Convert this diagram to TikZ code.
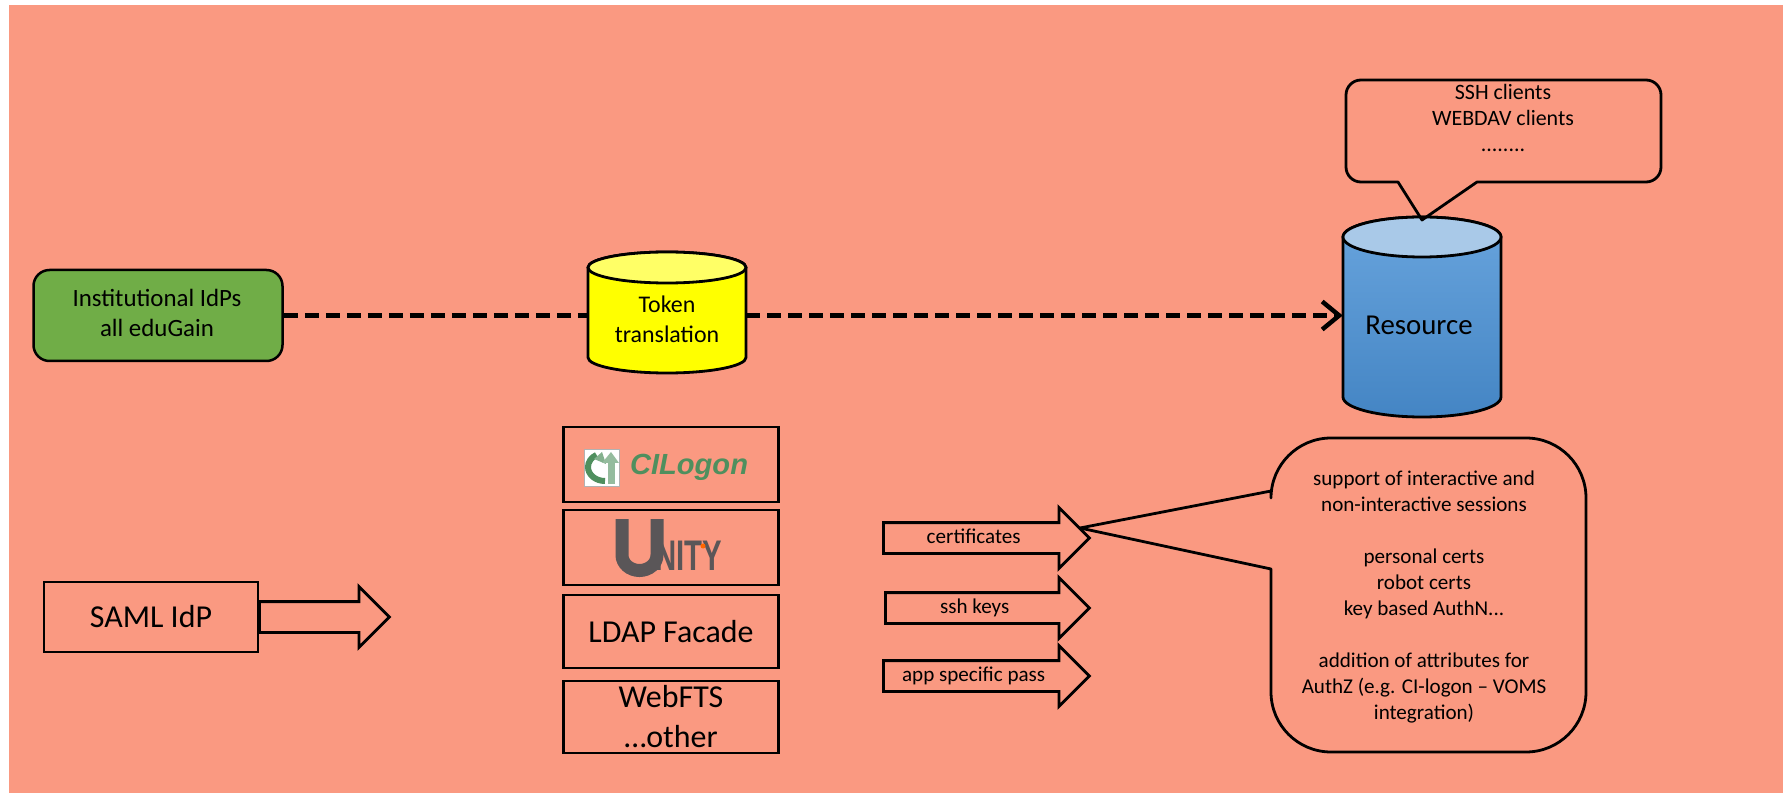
\documentclass[tikz,border=0pt]{standalone}
\usepackage{fontspec}
\setmainfont{Carlito}
\newfontfamily\logofont{Liberation Sans}
\usetikzlibrary{arrows.meta}
\usetikzlibrary{shapes.arrows}
\def\px{.025cm}
\definecolor{salmonbg}{HTML}{FA9981}
\definecolor{idpgreen}{HTML}{70AD47}
\definecolor{logogreen}{HTML}{4F8F5E}
\definecolor{unitygray}{HTML}{5A5658}
\definecolor{tokenbody}{HTML}{FFFF00}
\definecolor{tokenend}{HTML}{FFFF66}
\definecolor{drumtop}{HTML}{68A4DD}
\definecolor{drumbottom}{HTML}{4485C4}
\definecolor{drumend}{HTML}{A9C9E8}
\tikzset{
  boxed/.style={draw=black, line width=2.5*\px, inner sep=0pt, align=center},
  talk/.style={draw=black, line width=2.8*\px, line join=round},
  flowarrow/.style={single arrow, draw=black, line width=2.8*\px, inner sep=0pt, anchor=tail,
    single arrow head extend=15*\px, text height=19*\px, text depth=9*\px, single arrow tip angle=90},
  smalltxt/.style={font=\fontsize{15}{18.5}\selectfont, align=center, inner sep=0pt},
  bigtxt/.style={font=\fontsize{22.7}{28.5}\selectfont, align=center},
  dashline/.style={line width=5*\px, dash pattern=on 14*\px off 7*\px},
  drumline/.style={draw=black, line width=2.8*\px},
  drumlabel/.style={inner sep=0pt, align=center, minimum width=158*\px}
}
% centre x, y of top and bottom ellipse, axial radius, body look, end look
\newcommand{\drumshape}[6]{
  \draw[drumline, #5] (#1-79,#2) -- (#1-79,#3) arc [start angle=180, end angle=360, x radius=79*\px, y radius=#4*\px] -- (#1+79,#2) arc [start angle=0, end angle=180, x radius=79*\px, y radius=#4*\px] -- cycle;
  \draw[drumline, fill=#6] (#1,#2) ellipse [x radius=79*\px, y radius=#4*\px];
}
\begin{document}
\begin{tikzpicture}[x=.025cm, y=-.025cm]
\useasboundingbox (0,0) rectangle (1783,793);
\fill[white] (0,0) rectangle (1783,793);
\fill[salmonbg] (9,5) rectangle (1783,793);

\node[boxed, fill=idpgreen, rounded corners=16*\px, minimum width=249*\px, minimum height=91*\px] (idps) at (158,315.5) {};
\node[smalltxt, font=\fontsize{17.7}{21.5}\selectfont] (idpstxt) at (157,313) {Institutional IdPs\\all eduGain};

\drumshape{667}{267.5}{357.5}{15.5}{fill=tokenbody}{tokenend}
\node[drumlabel, font=\fontsize{17}{21.5}\selectfont] (token) at (667,319) {Token\\translation};

\drumshape{1422}{237}{397}{20}{top color=drumtop, bottom color=drumbottom}{drumend}
\node[drumlabel, font=\fontsize{20.5}{25}\selectfont] (resource) at (1422,325) {\hspace*{-.15cm}Resource};

\draw[dashline] (idps.east) -- (idps.east -| token.west);
\draw[dashline, -{Straight Barb[length=17*\px, width=28*\px, line width=4.5*\px]}] (token.east |- idps.east) -- (resource.west |- idps.east);

\draw[talk] (1398,182) -- (1422,220) -- (1477,182) [rounded corners=15*\px] -- (1661,182) -- (1661,80) -- (1346,80) -- (1346,182) [sharp corners] -- cycle;
\node[smalltxt, font=\fontsize{15.6}{18.5}\selectfont] (clients) at (1503,118) {SSH clients\\WEBDAV clients\\........};

\node[boxed, minimum width=215*\px, minimum height=75*\px] (cilogon) at (671,464.5) {};
\node[boxed, minimum width=215*\px, minimum height=75*\px] (unity) at (671,547.5) {};
\node[boxed, bigtxt, minimum width=215*\px, minimum height=73*\px] (ldap) at (671,631.5) {LDAP Facade};
\node[boxed, bigtxt, minimum width=215*\px, minimum height=72*\px] (webfts) at (671,717) {WebFTS\\…other};

\fill[white, draw=black!30] (584,449) rectangle (619,486);
\draw[logogreen, line width=6*\px] (605,481) arc [start angle=270, end angle=120, x radius=17*\px, y radius=14*\px];
\fill[logogreen!70!white] (602,452) -- (594,459) -- (606,464) -- cycle;
\draw[logogreen!60!white, line width=7*\px] (611,484) -- (611,462);
\fill[logogreen!60!white] (611,452) -- (602,463) -- (619,463) -- cycle;
\node[font=\logofont\bfseries\itshape\fontsize{20.7}{21}\selectfont, text=logogreen, inner sep=0pt] (cilogontxt) at (689,467) {CILogon};

\draw[unitygray, line width=13*\px] (622,519) -- (622,555) arc [start angle=180, end angle=360, x radius=17.5*\px, y radius=15.5*\px] -- (657,519);
\node[font=\logofont\bfseries\fontsize{29}{29}\selectfont, text=unitygray, inner sep=0pt, anchor=west] (unitytxt) at (655,556) {\scalebox{.72}[1.05]{NITY}};
\fill[orange!80!red] (703,546) circle [radius=2.5*\px];

\node[boxed, bigtxt, fill=salmonbg, minimum width=214*\px, minimum height=70*\px] (saml) at (151,617) {SAML IdP};
\node[flowarrow, minimum height=130*\px] (samlarrow) at (258,617) {};

\foreach \name/\xa/\ya/\lab in {certs/882/538/certificates, keys/884/608/ssh keys, pass/882/676/app specific pass}
  \node[flowarrow, font=\fontsize{15}{18}\selectfont, minimum height={(1088-\xa)*\px}] (\name) at (\xa,\ya) {\lab\hspace*{.25cm}};

\draw[talk] (1271,491) -- (1080,528) -- (1271,569) [rounded corners=60*\px] -- (1271,752) -- (1586,752) -- (1586,438) -- (1271,438) [sharp corners] -- cycle;
\node[smalltxt, font=\fontsize{15}{18.5}\selectfont] (notes) at (1424,597) {support of interactive and\\non-interactive sessions\\~\\personal certs\\robot certs\\key based AuthN...\\~\\addition of attributes for\\AuthZ (e.g. CI-logon – VOMS\\integration)};
\end{tikzpicture}
\end{document}
